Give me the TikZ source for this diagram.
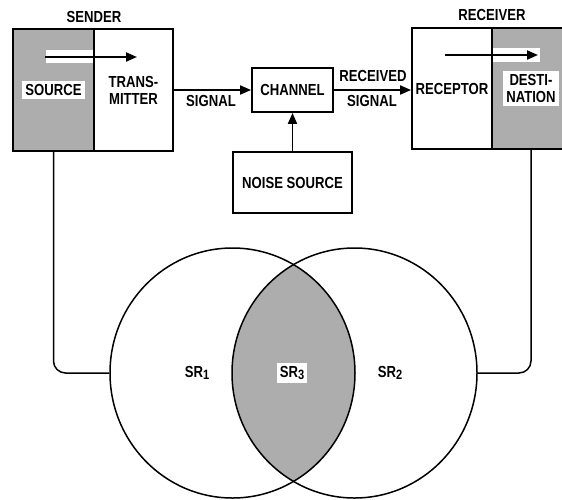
\documentclass[tikz,border=0pt]{standalone}
\usepackage{fontspec}
\setmainfont{Liberation Sans}[FakeStretch=0.82]
\usetikzlibrary{arrows.meta,shapes.geometric}
\definecolor{hatch}{gray}{0.68}
\begin{document}
\begin{tikzpicture} [x=1pt, y=-1pt, >={Triangle[length=11pt,width=9pt]},
    line width=1.8pt,
    every node/.style={font=\fontsize{16}{17}\selectfont\bfseries, align=center, inner sep=0pt},
    box/.style={rectangle, draw},
    shaded/.style={rectangle, draw, fill=hatch},
    tag/.style={fill=white, inner sep=3pt},
    set/.style={ellipse, draw, line width=1.5pt, minimum width=245pt, minimum height=250pt}]
  \useasboundingbox (0,0) rectangle (562,499);

  \node[shaded, minimum width=81pt, minimum height=122pt] (source) at (53.5,90) {};
  \node[box, minimum width=79pt, minimum height=122pt] (transmitter) at (133.5,90) {TRANS-\\MITTER};
  \node[box, minimum width=81pt, minimum height=44pt] (channel) at (292.5,90) {CHANNEL};
  \node[box, minimum width=119pt, minimum height=61pt] (noise) at (292.5,182.5) {NOISE SOURCE};
  \node[box, minimum width=80pt, minimum height=121pt] (receptor) at (452,88.5) {RECEPTOR};
  \node[shaded, minimum width=78pt, minimum height=121pt] (destination) at (531,88.5) {};

  \node at (94,17) {SENDER};
  \node at (492,15) {RECEIVER};
  \node[tag] at (source) {SOURCE};
  \node[tag] at (destination) {DESTI-\\NATION};
  \node at (211,101) {SIGNAL};
  \node at (373,76) {RECEIVED};
  \node at (372,101) {SIGNAL};

  \fill[white] (46,50) rectangle (92.6,63);
  \fill[white] (493.4,48) rectangle (540,62);
  \coordinate (txa) at (45,57);
  \coordinate (txb) at (137,57);
  \coordinate (rxa) at (445,55);
  \coordinate (rxb) at (538,55);
  \draw[->, line width=2pt] (txa) -- (txb);
  \draw[->, line width=2pt] (rxa) -- (rxb);

  \draw[->] (transmitter.east) -- (channel.west);
  \draw[->] (channel.east) -- (channel.east -| receptor.west);
  \draw[->] (noise.north) -- (channel.south);

  \begin{scope}
    \clip (232.5,373) ellipse [x radius=122.5, y radius=125];
    \fill[hatch] (354.5,373) ellipse [x radius=122.5, y radius=125];
  \end{scope}
  \node[set] (sr1) at (232.5,373) {};
  \node[set] (sr2) at (354.5,373) {};
  \node at (197,373) {SR\raisebox{-2.5pt}{\fontsize{13.5}{13}\selectfont 1}};
  \node at (390,373) {SR\raisebox{-2.5pt}{\fontsize{13.5}{13}\selectfont 2}};
  \node[tag] at (292,373) {SR\raisebox{-2.5pt}{\fontsize{13.5}{13}\selectfont 3}};

  \draw[line width=1.5pt, rounded corners=12pt] (source.south) |- (sr1.west);
  \draw[line width=1.5pt, rounded corners=12pt] (destination.south) |- (sr2.east);
\end{tikzpicture}
\end{document}
